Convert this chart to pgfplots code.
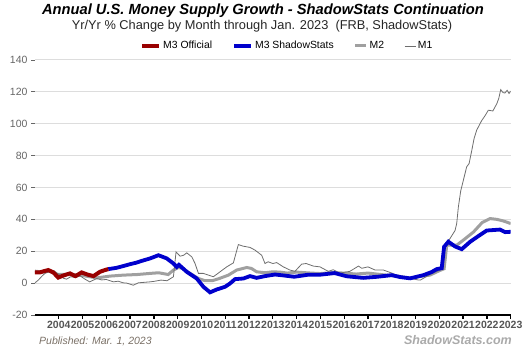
\documentclass[border=0pt]{standalone}
\usepackage{fontspec}
\setmainfont{Liberation Sans}
\usepackage{pgfplots}
\pgfplotsset{compat=1.18}
\definecolor{m3red}{HTML}{990000}
\definecolor{m3blue}{HTML}{0000CC}
\definecolor{m2gray}{HTML}{A0A0A0}
\definecolor{m1gray}{HTML}{6E6E6E}
\definecolor{gridgray}{HTML}{DDDDDD}
\definecolor{ticktext}{HTML}{666666}
\definecolor{xticktext}{HTML}{555555}
\definecolor{pubtext}{HTML}{7A7066}
\definecolor{wmark}{HTML}{AAAAAA}
\pgfplotsset{leglen/.style={legend image code/.code={\draw[##1] (0pt,0pt) -- (#1,0pt);}}}
\begin{document}
\begin{tikzpicture}
\useasboundingbox (0pt,0pt) rectangle (525pt,350pt);
\begin{axis}[
  at={(35pt,35pt)}, anchor=south west, scale only axis,
  width=475.7pt, height=255pt,
  xmin=2003, xmax=2023, ymin=-20, ymax=140,
  ytick={-20,0,20,40,60,80,100,120,140},
  xtick={2004,2005,...,2023},
  ymajorgrids, grid style={gridgray, line width=1pt},
  axis x line*=bottom, axis y line*=left,
  y axis line style={draw=none},
  x axis line style={black, line width=1.3pt, -},
  tick align=outside, major tick length=4pt,
  xtick style={black, line width=1.3pt},
  ytick style={ticktext, line width=0.8pt},
  /pgf/number format/assume math mode=true,
  /pgf/number format/set thousands separator={},
  yticklabel style={font=\fontsize{10.5}{12}\selectfont, text=ticktext},
  xticklabel style={font=\bfseries\fontsize{10.5}{12}\selectfont, text=xticktext, inner sep=2pt},
  legend columns=4,
  legend style={at={(0.2207,1.055)}, anchor=west, draw=none, fill=none, inner sep=0pt,
    font=\fontsize{10.4}{12}\selectfont,
    /tikz/every even column/.append style={column sep=18pt}},
  clip=true,
]
\addlegendimage{m3red, line width=4pt, leglen=17pt}
\addlegendentry{M3 Official}
\addlegendimage{m3blue, line width=4pt, leglen=17pt}
\addlegendentry{M3 ShadowStats}
\addlegendimage{m2gray, line width=3pt, leglen=11pt}
\addlegendentry{M2}
\addlegendimage{m1gray, line width=0.8pt, leglen=11pt}
\addlegendentry{M1}

% M2
\addplot[m2gray, line width=3pt, forget plot] coordinates {
(2003.0,7.5)(2003.3,7.0)(2003.6,7.5)(2003.9,5.5)(2004.3,5.5)(2004.6,5.2)(2004.9,5.0)
(2005.3,4.0)(2005.6,3.3)(2006.15,4.4)(2006.7,5.0)(2007.3,5.4)(2007.84,6.1)(2008.2,6.5)
(2008.6,5.4)(2008.82,8.2)(2009.03,9.8)(2009.2,9.2)(2009.52,6.1)(2009.87,2.9)(2010.15,1.5)
(2010.45,1.5)(2010.75,2.9)(2011.13,5.0)(2011.48,8.2)(2011.9,9.8)(2012.1,9.2)(2012.32,7.1)
(2012.67,6.5)(2013.0,7.1)(2013.3,6.9)(2013.6,6.3)(2014.0,6.9)(2014.6,6.3)(2015.0,6.0)
(2015.5,6.6)(2016.0,6.3)(2016.5,5.7)(2017.0,6.3)(2017.6,5.3)(2018.3,4.3)(2018.77,3.0)
(2019.3,4.5)(2019.6,5.0)(2020.03,8.0)(2020.2,9.0)(2020.31,23.8)(2020.73,23.8)(2021.01,27.0)
(2021.43,32.0)(2021.8,38.0)(2022.13,40.5)(2022.42,40.0)(2022.69,39.0)(2023.0,37.4)
};
% M1
\addplot[m1gray, line width=0.8pt, forget plot] coordinates {
(2003.0,0.2)(2003.14,1.9)(2003.3,4.5)(2003.42,6.1)(2003.63,7.3)(2003.8,7.8)(2004.0,5.5)
(2004.2,3.0)(2004.33,2.5)(2004.5,4.0)(2004.7,3.5)(2004.9,4.5)(2005.1,2.5)(2005.3,0.8)
(2005.6,2.9)(2005.8,2.0)(2006.0,2.3)(2006.3,0.8)(2006.5,1.2)(2006.7,0.2)(2006.86,0.0)
(2007.13,-1.3)(2007.35,0.2)(2007.6,0.5)(2007.84,0.8)(2008.0,1.1)(2008.3,1.9)(2008.55,1.5)
(2008.82,4.0)(2008.93,19.6)(2009.1,16.9)(2009.25,17.5)(2009.38,19.0)(2009.59,16.5)
(2009.73,12.3)(2009.87,6.1)(2010.08,6.1)(2010.3,5.0)(2010.5,4.0)(2010.78,7.1)(2011.06,10.2)
(2011.34,12.7)(2011.55,24.2)(2011.75,23.2)(2012.04,22.4)(2012.25,20.7)(2012.53,17.5)
(2012.67,12.3)(2012.8,13.4)(2013.0,12.3)(2013.16,12.9)(2013.44,10.2)(2013.72,8.2)
(2013.93,7.4)(2014.21,11.9)(2014.4,12.3)(2014.7,10.7)(2014.98,10.2)(2015.33,7.4)
(2015.54,8.4)(2015.82,6.3)(2016.24,7.4)(2016.6,10.7)(2016.74,9.3)(2017.0,10.2)(2017.3,8.2)
(2017.65,8.2)(2018.0,6.3)(2018.2,5.0)(2018.5,3.5)(2018.8,3.0)(2019.1,2.0)(2019.2,1.9)
(2019.5,4.5)(2019.74,6.3)(2020.0,8.0)(2020.16,9.4)(2020.24,24.0)(2020.45,28.0)(2020.66,33.0)
(2020.73,37.4)(2020.8,47.8)(2020.9,58.0)(2021.01,64.6)(2021.15,73.0)(2021.25,75.0)
(2021.36,83.0)(2021.46,90.7)(2021.57,96.0)(2021.78,102.0)(2021.92,105.0)(2022.06,108.5)
(2022.25,108.0)(2022.42,112.7)(2022.5,116.0)(2022.58,121.4)(2022.68,119.5)(2022.76,119.3)
(2022.85,121.0)(2022.93,119.0)(2023.0,120.5)
};
% M3 ShadowStats
\addplot[m3blue, line width=3.8pt, forget plot] coordinates {
(2006.08,8.8)(2006.43,9.6)(2006.71,10.7)(2007.0,11.9)(2007.25,12.8)(2007.5,14.0)
(2007.84,15.5)(2008.19,17.5)(2008.54,15.5)(2008.82,12.3)(2008.96,10.2)(2009.05,11.5)
(2009.38,7.1)(2009.8,2.9)(2010.08,-2.3)(2010.36,-5.8)(2010.64,-4.0)(2010.99,-2.3)
(2011.2,-0.2)(2011.41,2.5)(2011.76,2.9)(2012.04,4.4)(2012.32,3.3)(2012.67,4.4)(2013.09,5.4)
(2013.4,4.9)(2013.9,4.0)(2014.5,5.3)(2015.0,5.3)(2015.6,6.3)(2016.1,4.3)(2016.8,3.3)
(2017.4,4.0)(2018.0,5.0)(2018.35,3.8)(2018.77,3.0)(2019.05,4.0)(2019.33,5.0)(2019.68,7.0)
(2019.89,8.8)(2020.1,9.4)(2020.2,22.8)(2020.38,26.0)(2020.66,23.0)(2020.94,21.3)
(2021.3,26.0)(2021.64,29.5)(2021.99,33.0)(2022.55,33.6)(2022.77,32.0)(2023.0,32.2)
};
% M3 Official
\addplot[m3red, line width=4pt, forget plot] coordinates {
(2003.0,6.7)(2003.2,6.7)(2003.4,7.6)(2003.56,8.2)(2003.77,6.7)(2003.98,3.5)(2004.2,4.8)
(2004.47,6.1)(2004.7,4.4)(2004.96,6.7)(2005.2,5.4)(2005.46,4.4)(2005.73,7.1)(2005.94,8.2)
(2006.08,8.8)
};
\end{axis}
\node[anchor=base, font=\bfseries\itshape\fontsize{14.7}{16}\selectfont] at (263pt,335.7pt)
  {Annual U.S. Money Supply Growth - ShadowStats Continuation};
\node[anchor=base, font=\fontsize{12.8}{14}\selectfont, text=black!85] at (262pt,320.7pt)
  {Yr/Yr \% Change by Month through Jan. 2023\ \ (FRB, ShadowStats)};
\node[anchor=base west, inner sep=0pt, font=\itshape\fontsize{10.5}{12}\selectfont, text=pubtext] at (39pt,5pt)
  {Published: Mar. 1, 2023};
\node[anchor=base east, inner sep=0pt, font=\bfseries\itshape\fontsize{12.5}{14}\selectfont, text=wmark] at (512pt,5pt)
  {ShadowStats.com};
\end{tikzpicture}
\end{document}
